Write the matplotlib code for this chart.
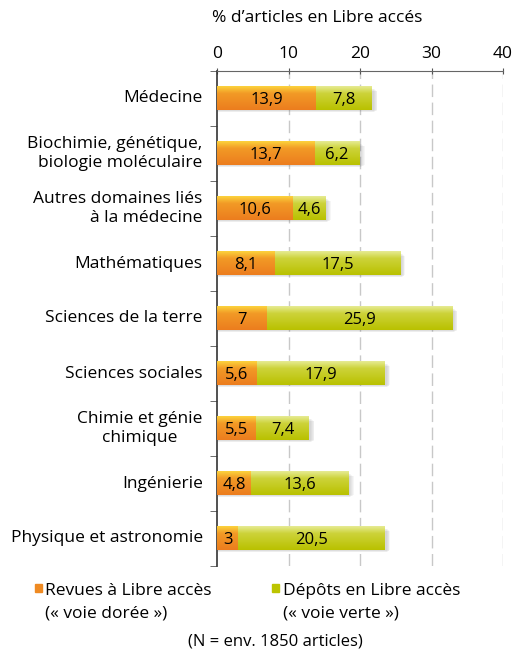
import numpy as np
import matplotlib
matplotlib.use("Agg")
import matplotlib.pyplot as plt
from matplotlib.colors import LinearSegmentedColormap
from matplotlib.patches import Rectangle

plt.rcParams['font.family'] = ['Open Sans', 'DejaVu Sans']

# data
categories = ['Médecine', 'Biochimie, génétique,\nbiologie moléculaire',
              'Autres domaines liés\nà la médecine', 'Mathématiques',
              'Sciences de la terre', 'Sciences sociales',
              'Chimie et génie\nchimique', 'Ingénierie', 'Physique et astronomie']
gold = [13.9, 13.7, 10.6, 8.1, 7, 5.6, 5.5, 4.8, 3]
green = [7.8, 6.2, 4.6, 17.5, 25.9, 17.9, 7.4, 13.6, 20.5]
xticks = [0, 10, 20, 30, 40]

cm_gold = LinearSegmentedColormap.from_list('g', [(0, '#fcd23c'), (0.3, '#f29a26'), (1, '#ec7d1e')])
cm_green = LinearSegmentedColormap.from_list('v', [(0, '#e6eb92'), (0.3, '#cdd33a'), (1, '#b9c100')])


def fmt(v):
    return str(v).replace('.', ',')


def grad_bar(ax, x0, w, y, h, cmap):
    grad = np.linspace(0, 1, 50).reshape(-1, 1)
    ax.imshow(grad, cmap=cmap, aspect='auto', extent=[x0, x0 + w, y + h / 2, y - h / 2],
              zorder=3, interpolation='bilinear')


fig = plt.figure(figsize=(5.14, 6.56), dpi=100)
ax = fig.add_axes([217 / 514, 1 - 566 / 656, 286 / 514, 495 / 656])

h = 0.42
ys = np.arange(len(categories))
for i, y in enumerate(ys):
    tot = gold[i] + green[i]
    # soft shadow, blurred to the right
    for k in range(5):
        ax.add_patch(Rectangle((0.1, y - h / 2 + 0.03 + k * 0.012), tot + 0.15 + k * 0.12,
                               h + 0.01 - k * 0.02, color='#666666', alpha=0.06, lw=0, zorder=2))
    grad_bar(ax, 0, gold[i], y, h, cm_gold)
    grad_bar(ax, gold[i], green[i], y, h, cm_green)
    ax.text(gold[i] / 2, y + 0.02, fmt(gold[i]), ha='center', va='center', fontsize=12, zorder=5)
    ax.text(gold[i] + green[i] / 2, y + 0.02, fmt(green[i]), ha='center', va='center', fontsize=12, zorder=5)

ax.set_xlim(0, 40)
ax.set_ylim(len(categories) - 0.5, -0.5)
ax.xaxis.tick_top()
ax.set_xticks(xticks)
ax.set_xticklabels([str(t) for t in xticks], fontsize=12.5)
ax.tick_params(axis='x', direction='inout', length=5, color='#555555', pad=4)
ax.set_yticks(ys)
ax.set_yticklabels([])
ax.set_yticks(np.arange(-0.5, len(categories)), minor=True)
ax.tick_params(axis='y', which='major', length=0)
ax.tick_params(axis='y', which='minor', length=5, color='#555555', direction='out')
for t in xticks[1:]:
    ax.axvline(t, color='#c8c8c8', lw=1, ls=(0, (9, 4)), zorder=1)
for s in ['right', 'bottom']:
    ax.spines[s].set_visible(False)
ax.spines['top'].set_color('#666666')
ax.spines['left'].set_color('#333333')
ax.spines['left'].set_linewidth(1.2)

aligns = ['right', 'right', 'right', 'right', 'right', 'right', 'center', 'right', 'right']
for y, c, al in zip(ys, categories, aligns):
    ax.text(-2.0, y, c, ha='right', va='center', multialignment=al, fontsize=12.5,
            linespacing=1.25, transform=ax.transData, clip_on=False)

fig.text(212 / 514, 1 - 18 / 656, '% d’articles en Libre accés', ha='left', va='center', fontsize=12.5)

# legend
fig.patches.append(Rectangle((35 / 514, 1 - 592 / 656), 7 / 514, 8 / 656, color='#ef8a22',
                             transform=fig.transFigure, figure=fig))
fig.patches.append(Rectangle((272 / 514, 1 - 592 / 656), 7 / 514, 8 / 656, color='#bcc400',
                             transform=fig.transFigure, figure=fig))
fig.text(45 / 514, 1 - 591 / 656, 'Revues à Libre accès', ha='left', va='center', fontsize=12.5)
fig.text(45 / 514, 1 - 613 / 656, '(« voie dorée »)', ha='left', va='center', fontsize=12.5)
fig.text(283 / 514, 1 - 591 / 656, 'Dépôts en Libre accès', ha='left', va='center', fontsize=12.5)
fig.text(283 / 514, 1 - 613 / 656, '(« voie verte »)', ha='left', va='center', fontsize=12.5)
fig.text(275 / 514, 1 - 641 / 656, '(N = env. 1850 articles)', ha='center', va='center', fontsize=12)

fig.savefig('out.png', dpi=100)
